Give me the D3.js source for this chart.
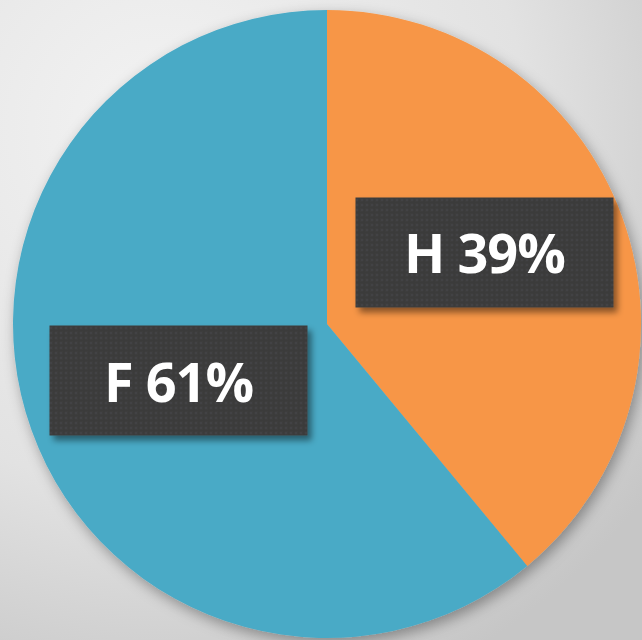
<!DOCTYPE html>
<html>
<head>
<meta charset="utf-8">
<script src="https://cdn.jsdelivr.net/npm/d3@7"></script>
<style>
  html, body { margin: 0; padding: 0; overflow: hidden; }
  svg { display: block; }
</style>
</head>
<body>
<div id="chart"></div>
<script>
let width = 642;
let height = 640;

// chart data
let categories = ["H", "F"];
let shares = [39, 61];
let sliceColors = ["#f79646", "#4aaac6"];

let cx = 327, cy = 324, radius = 314;

let svg = d3.select("#chart").append("svg")
    .attr("width", width)
    .attr("height", height);

let defs = svg.append("defs");

// background gradient, light top-left, grey bottom-right
let bg = defs.append("radialGradient")
    .attr("id", "bg")
    .attr("cx", "25%").attr("cy", "20%").attr("r", "95%");
bg.append("stop").attr("offset", "0%").attr("stop-color", "#f3f3f3");
bg.append("stop").attr("offset", "60%").attr("stop-color", "#e2e2e2");
bg.append("stop").attr("offset", "100%").attr("stop-color", "#c6c6c6");

// soft shadow under the pie
let pieShadow = defs.append("filter").attr("id", "pieShadow")
    .attr("x", "-20%").attr("y", "-20%").attr("width", "140%").attr("height", "140%");
pieShadow.append("feDropShadow")
    .attr("dx", 3).attr("dy", 5).attr("stdDeviation", 7)
    .attr("flood-color", "#000").attr("flood-opacity", 0.35);

// shadow for label boxes
let boxShadow = defs.append("filter").attr("id", "boxShadow")
    .attr("x", "-10%").attr("y", "-10%").attr("width", "130%").attr("height", "140%");
boxShadow.append("feDropShadow")
    .attr("dx", 4).attr("dy", 5).attr("stdDeviation", 3)
    .attr("flood-color", "#000").attr("flood-opacity", 0.45);

// dotted texture of the label boxes
let pat = defs.append("pattern")
    .attr("id", "dots")
    .attr("width", 5).attr("height", 5)
    .attr("patternUnits", "userSpaceOnUse");
pat.append("rect").attr("width", 5).attr("height", 5).attr("fill", "#3b3b3b");
pat.append("circle").attr("cx", 2.5).attr("cy", 2.5).attr("r", 1.1).attr("fill", "#4a4a4d");

svg.append("rect")
    .attr("width", width).attr("height", height)
    .attr("fill", "url(#bg)");

let data = categories.map((c, i) => ({ label: c, value: shares[i], color: sliceColors[i] }));

let pie = d3.pie()
    .sort(null)
    .value(d => d.value);

let arc = d3.arc().innerRadius(0).outerRadius(radius);
let labelArc = d3.arc().innerRadius(0).outerRadius(radius * 1.1);

let g = svg.append("g")
    .attr("transform", "translate(" + cx + "," + cy + ")");

g.append("g")
    .attr("filter", "url(#pieShadow)")
    .selectAll("path")
    .data(pie(data))
    .join("path")
    .attr("d", arc)
    .attr("fill", d => d.data.color);

// labels: dark boxes with the category and share
let boxW = 258, boxH = 110;
let nudge = { H: [-5, -13], F: [14, -2] };

let labels = g.selectAll(".lbl")
    .data(pie(data))
    .join("g")
    .attr("class", "lbl")
    .attr("transform", d => {
        let c = labelArc.centroid(d);
        let n = nudge[d.data.label] || [0, 0];
        return "translate(" + (c[0] + n[0]) + "," + (c[1] + n[1]) + ")";
    });

labels.append("rect")
    .attr("x", -boxW / 2).attr("y", -boxH / 2)
    .attr("width", boxW).attr("height", boxH)
    .attr("fill", "url(#dots)")
    .attr("filter", "url(#boxShadow)");

labels.append("text")
    .attr("text-anchor", "middle")
    .attr("y", 21)
    .attr("fill", "#ffffff")
    .style("font-family", "'Open Sans', 'Noto Sans', sans-serif")
    .style("font-weight", 700)
    .style("font-size", "54px")
    .style("letter-spacing", "-1px")
    .text(d => d.data.label + " " + d.data.value + "%");
</script>
</body>
</html>
